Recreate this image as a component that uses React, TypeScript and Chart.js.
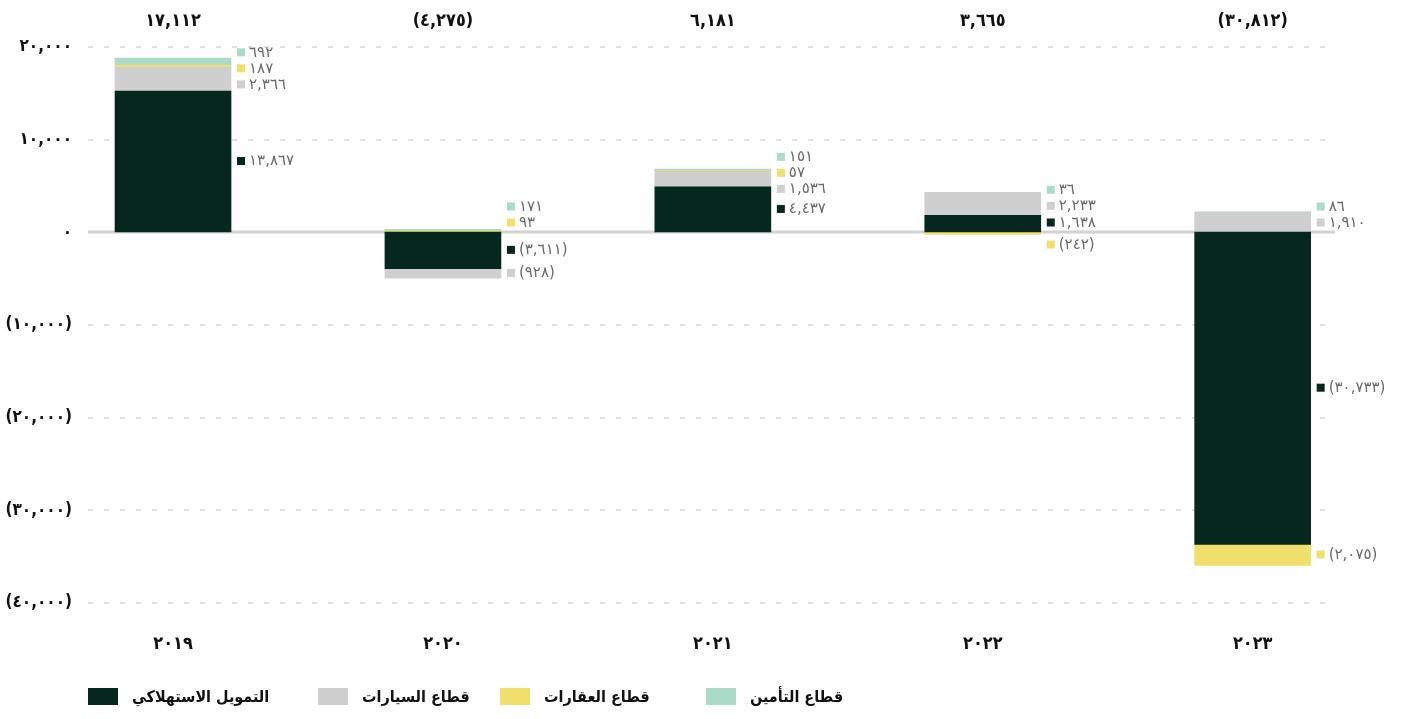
import React, { useEffect, useRef } from "react";
import { Chart, registerables } from "chart.js";

Chart.register(...registerables);

// Year categories (Arabic-Indic digits)
const YEARS = ["٢٠١٩", "٢٠٢٠", "٢٠٢١", "٢٠٢٢", "٢٠٢٣"];

// Series values per year
const CONSUMER = [13867, -3611, 4437, 1638, -30733];
const AUTO = [2366, -928, 1536, 2233, 1910];
const REAL_ESTATE = [187, 93, 57, -242, -2075];
const INSURANCE = [692, 171, 151, 36, 86];

const SERIES_NAMES = ["التمويل الاستهلاكي", "قطاع السيارات", "قطاع العقارات", "قطاع التأمين"];
const SERIES_COLORS = ["#05271d", "#cfcfcf", "#f0df6b", "#a9dbc6"];

// Labelled value axis (gridlines)
const Y_MIN = -40000;
const Y_MAX = 20000;
const Y_STEP = 10000;

// Bar axis: shares the zero baseline with the labelled axis, drawn at its own scale
const BAR_MIN = -36500;
const BAR_MAX = 18200;

const AR_DIGITS = "٠١٢٣٤٥٦٧٨٩";
function arabicNum(v: number): string {
  const s = Math.abs(Math.round(v))
    .toLocaleString("en-US")
    .replace(/\d/g, (d) => AR_DIGITS[Number(d)]);
  return v < 0 ? `(${s})` : s;
}

const FONT = "'DejaVu Sans', sans-serif";
const FONT_BOLD = "'DejaVu Sans Condensed', 'DejaVu Sans', sans-serif";

// Totals above each column, the solid zero line and per-segment value labels
const decorPlugin = {
  id: "decor",
  beforeDatasetsDraw(chart: any) {
    const { ctx, chartArea, scales } = chart;
    const y0 = scales.yBars.getPixelForValue(0);
    ctx.save();
    ctx.strokeStyle = "#d2d2d2";
    ctx.lineWidth = 3;
    ctx.beginPath();
    ctx.moveTo(chartArea.left, y0);
    ctx.lineTo(chartArea.right, y0);
    ctx.stroke();
    ctx.restore();
  },
  afterDatasetsDraw(chart: any) {
    const { ctx, scales } = chart;
    const series = [CONSUMER, AUTO, REAL_ESTATE, INSURANCE];
    const y0 = scales.yBars.getPixelForValue(0);
    ctx.save();
    ctx.font = `bold 18px ${FONT_BOLD}`;
    ctx.fillStyle = "#111";
    ctx.textAlign = "center";
    ctx.textBaseline = "middle";
    YEARS.forEach((_, i) => {
      const total = series.reduce((a, s) => a + s[i], 0);
      ctx.fillText(arabicNum(total), scales.x.getPixelForValue(i), 21);
    });

    const GAP = 16;
    YEARS.forEach((_, i) => {
      const items: any[] = [];
      series.forEach((s, d) => {
        const bar = chart.getDatasetMeta(d).data[i] as any;
        const c = (bar.y + bar.base) / 2;
        items.push({ d, v: s[i], c, y: c, xr: bar.x + bar.width / 2 });
      });
      const pos = items.filter((it) => it.v >= 0).sort((a, b) => a.c - b.c);
      const neg = items.filter((it) => it.v < 0).sort((a, b) => a.c - b.c);
      const relax = (group: any[], lo: number, hi: number) => {
        for (let iter = 0; iter < 200; iter++) {
          for (let k = 1; k < group.length; k++) {
            const diff = group[k].y - group[k - 1].y;
            if (diff < GAP) {
              const push = (GAP - diff) / 2;
              group[k - 1].y -= push;
              group[k].y += push;
            }
          }
          group.forEach((g) => {
            if (g.y < lo) g.y = lo;
            if (g.y > hi) g.y = hi;
          });
        }
      };
      relax(pos, -1e6, y0 - 9);
      relax(neg, y0 + 13, 1e6);
      items.forEach((it) => {
        const mx = it.xr + 6;
        ctx.fillStyle = SERIES_COLORS[it.d];
        ctx.fillRect(mx, it.y - 4.5, 8, 8);
        ctx.fillStyle = "#6a6a6a";
        ctx.font = `15px ${FONT}`;
        ctx.textAlign = "left";
        ctx.textBaseline = "middle";
        ctx.fillText(arabicNum(it.v), mx + 12, it.y);
      });
    });
    ctx.restore();
  },
};

export default function App() {
  const canvasRef = useRef<HTMLCanvasElement | null>(null);

  useEffect(() => {
    document.body.style.margin = "0";
    const canvas = canvasRef.current;
    if (!canvas) return;
    const series = [CONSUMER, AUTO, REAL_ESTATE, INSURANCE];
    const chart = new Chart(canvas, {
      type: "bar",
      data: {
        datasets: series.map((s, d) => ({
          label: SERIES_NAMES[d],
          data: s.map((v, i) => ({ x: i, y: v })),
          backgroundColor: SERIES_COLORS[d],
          borderWidth: 0,
          barThickness: 116,
          yAxisID: "yBars",
        })),
      },
      options: {
        animation: false,
        responsive: false,
        layout: { padding: { top: 47, right: 72, bottom: 0, left: 0 } },
        plugins: {
          legend: { display: false },
          tooltip: { enabled: false },
        },
        scales: {
          x: {
            type: "linear",
            stacked: true,
            offset: false,
            min: -0.315,
            max: 4.305,
            grid: { display: false },
            border: { display: false },
            afterBuildTicks(scale: any) {
              scale.ticks = YEARS.map((_, i) => ({ value: i }));
            },
            afterFit(scale: any) {
              scale.height = 116;
            },
            ticks: {
              padding: 23,
              maxRotation: 0,
              autoSkip: false,
              color: "#111",
              font: { family: FONT_BOLD, size: 18, weight: "bold" },
              callback: (v: any) => YEARS[Number(v)] ?? "",
            },
          },
          y: {
            position: "left",
            min: Y_MIN,
            max: Y_MAX,
            afterFit(scale: any) {
              scale.width = 88;
            },
            border: { display: false, dash: [5, 11] },
            grid: {
              drawTicks: false,
              lineWidth: 2,
              color: (ctx: any) => (ctx.tick && ctx.tick.value === 0 ? "rgba(0,0,0,0)" : "#e2e2e2"),
            },
            ticks: {
              stepSize: Y_STEP,
              padding: 16,
              color: "#111",
              font: { family: FONT_BOLD, size: 17, weight: "bold" },
              callback: (v: any) => arabicNum(Number(v)),
            },
          },
          yBars: {
            display: false,
            stacked: true,
            min: BAR_MIN,
            max: BAR_MAX,
          },
        },
      },
      plugins: [decorPlugin],
    });
    return () => chart.destroy();
  }, []);

  const legendX = [88, 318, 500, 706];

  return (
    <div style={{ position: "relative", width: 1407, height: 719, background: "#fff" }}>
      <canvas ref={canvasRef} width={1407} height={719} style={{ display: "block" }} />
      {SERIES_NAMES.map((name, d) => (
        <div
          key={name}
          style={{
            position: "absolute",
            left: legendX[d],
            top: 688,
            display: "flex",
            alignItems: "center",
            height: 17,
          }}
        >
          <span style={{ width: 30, height: 17, background: SERIES_COLORS[d], display: "inline-block" }} />
          <span
            style={{
              marginLeft: 14,
              fontFamily: FONT_BOLD,
              fontWeight: "bold",
              fontSize: 16,
              color: "#111",
              whiteSpace: "nowrap",
              lineHeight: "17px",
            }}
          >
            {name}
          </span>
        </div>
      ))}
    </div>
  );
}
